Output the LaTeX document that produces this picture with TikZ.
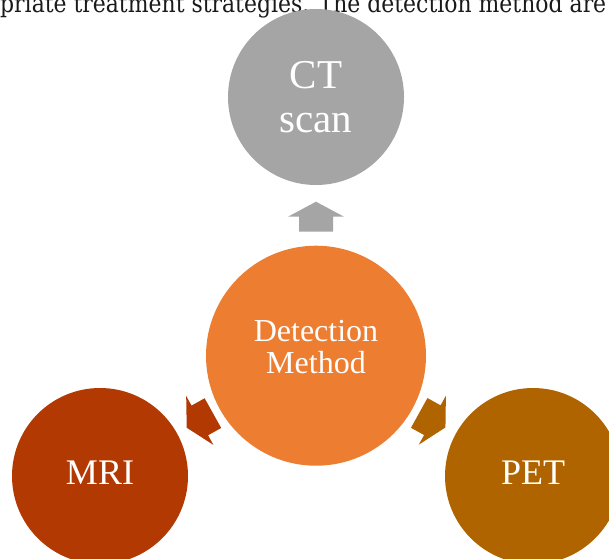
\documentclass[tikz,border=0pt]{standalone}
\usepackage{fontspec}
\setmainfont{Liberation Serif}
\newfontfamily\topfont{DejaVu Serif}
\usetikzlibrary{calc}
\definecolor{ctgray}{HTML}{A5A5A5}
\definecolor{detorange}{HTML}{ED7D31}
\definecolor{mrired}{HTML}{B23A02}
\definecolor{petbrown}{HTML}{AF6400}
\definecolor{toptextcol}{HTML}{1A1A1A}
\newcommand\radarrow[4]{%
  \path ($(#1.center)!#3!(#2.center)$) coordinate (t)
        ($(#1.center)!#3+15pt!(#2.center)$) coordinate (n)
        ($(#1.center)!#3+30pt!(#2.center)$) coordinate (a);
  \fill[#4] ($(t)!17pt!90:(a)$) -- ($(n)!17pt!90:(a)$) -- ($(n)!28pt!90:(a)$) -- (a)
     -- ($(n)!28pt!-90:(a)$) -- ($(n)!17pt!-90:(a)$) -- ($(t)!17pt!-90:(a)$) -- cycle;}
\begin{document}
\begin{tikzpicture}[x=1pt,y=-1pt,
  disc/.style={circle,inner sep=0pt,minimum size=#1},
  lbl/.style={text=white,align=center,inner sep=0pt}]
\useasboundingbox (0,0) rectangle (609,558);
\clip (0,0) rectangle (609,558);
\node[anchor=base west,inner sep=0pt,text=toptextcol] (toptext) at (0,12)
  {\scalebox{1}[1.15]{\resizebox{606pt}{!}{\topfont priate treatment strategies. The detection method are}}};
\node[disc=176pt,fill=ctgray] (ct) at (316,97) {};
\node[disc=220pt,fill=detorange] (det) at (316,355.7) {};
\node[disc=176pt,fill=mrired] (mri) at (100,476) {};
\node[disc=176pt,fill=petbrown] (pet) at (533,476) {};
\node[lbl,font=\fontsize{41}{44}\selectfont] (ctl) at (316,97.5) {CT\\scan};
\node[lbl,font=\fontsize{32}{32}\selectfont] (detl) at (316,347.5) {Detection\\Method};
\node[lbl,font=\fontsize{36}{40}\selectfont] (mril) at (100,472.5) {MRI};
\node[lbl,font=\fontsize{36}{40}\selectfont] (petl) at (533,472.5) {PET};
\radarrow{det}{ct}{124pt}{ctgray}
\radarrow{det}{mri}{118pt}{mrired}
\radarrow{det}{pet}{118pt}{petbrown}
\end{tikzpicture}
\end{document}
